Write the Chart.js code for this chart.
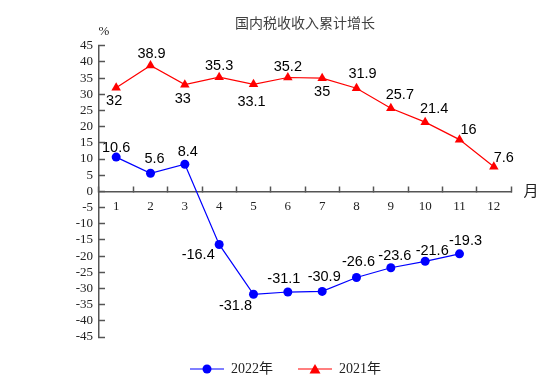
<!DOCTYPE html>
<html>
<head>
<meta charset="utf-8">
<script src="https://cdn.jsdelivr.net/npm/chart.js@4.4.1/dist/chart.umd.min.js"></script>
<style>
  html, body { margin: 0; padding: 0; background: #fff; }
</style>
</head>
<body>
<canvas id="tax-chart" width="554" height="392" style="width:554px;height:392px"></canvas>
<script>
// data
const months = ['1', '2', '3', '4', '5', '6', '7', '8', '9', '10', '11', '12'];
const growth2022 = [10.6, 5.6, 8.4, -16.4, -31.8, -31.1, -30.9, -26.6, -23.6, -21.6, -19.3, null];
const growth2021 = [32, 38.9, 33, 35.3, 33.1, 35.2, 35, 31.9, 25.7, 21.4, 16, 7.6];
const yMin = -45;
const yMax = 45;
const yStep = 5;

// where each value label sits relative to its point [dx, dy]
const labelShift2022 = [[0, -9], [4, -14], [3, -12], [-21, 11], [-18, 12], [-4, -13], [2, -14], [2, -15], [4, -12], [7, -10], [6, -13]];
const labelShift2021 = [[-2, 13], [1, -12], [-2, 14], [0, -11], [-2, 18], [0, -11], [0, 14], [6, -14], [9, -13], [9, -13], [9, -10], [10, -9]];

const SERIF = '"Liberation Serif", "Times New Roman", "Noto Sans CJK SC", serif';
const CJK = '"Noto Sans CJK SC", sans-serif';
const AXIS_COLOR = '#555555';

// small picture for the legend: line with the marker in the middle
function legendIcon(color, shape) {
  const c = document.createElement('canvas');
  c.width = 34;
  c.height = 12;
  const ctx = c.getContext('2d');
  ctx.strokeStyle = color;
  ctx.fillStyle = color;
  ctx.lineWidth = 1.2;
  ctx.beginPath();
  ctx.moveTo(0, 6);
  ctx.lineTo(34, 6);
  ctx.stroke();
  ctx.beginPath();
  if (shape === 'circle') {
    ctx.arc(17, 6, 4.5, 0, Math.PI * 2);
  } else {
    ctx.moveTo(17, 1);
    ctx.lineTo(22.5, 10.5);
    ctx.lineTo(11.5, 10.5);
    ctx.closePath();
  }
  ctx.fill();
  return c;
}
const icons = [legendIcon('#0000ff', 'circle'), legendIcon('#ff0000', 'triangle')];

const valueLabels = {
  id: 'valueLabels',
  afterDatasetsDraw(chart) {
    const ctx = chart.ctx;
    const shifts = [labelShift2022, labelShift2021];
    ctx.save();
    ctx.font = '14.5px "Liberation Sans", Arial, sans-serif';
    ctx.fillStyle = '#000';
    ctx.textAlign = 'center';
    ctx.textBaseline = 'middle';
    chart.data.datasets.forEach((ds, i) => {
      const meta = chart.getDatasetMeta(i);
      meta.data.forEach((pt, j) => {
        const v = ds.data[j];
        if (v === null || v === undefined) return;
        const s = shifts[i][j];
        ctx.fillText(String(v), pt.x + s[0], pt.y + s[1]);
      });
    });
    ctx.restore();
  }
};

const axisNames = {
  id: 'axisNames',
  afterDraw(chart) {
    const ctx = chart.ctx;
    const area = chart.chartArea;
    const zeroY = chart.scales.y.getPixelForValue(0);
    ctx.save();
    ctx.fillStyle = '#222';
    ctx.textBaseline = 'middle';
    ctx.font = '13px ' + SERIF;
    ctx.textAlign = 'center';
    ctx.fillText('%', area.left + 5, area.top - 14);
    ctx.font = '15px ' + CJK;
    ctx.fillText('月', area.right + 20, zeroY - 1);
    ctx.restore();
  }
};

new Chart(document.getElementById('tax-chart'), {
  type: 'line',
  data: {
    labels: months,
    datasets: [
      {
        label: '2022年',
        data: growth2022,
        borderColor: '#0000ff',
        backgroundColor: '#0000ff',
        borderWidth: 1.2,
        pointStyle: 'circle',
        pointRadius: 4.5,
        pointBorderWidth: 0,
        tension: 0
      },
      {
        label: '2021年',
        data: growth2021,
        borderColor: '#ff0000',
        backgroundColor: '#ff0000',
        borderWidth: 1.2,
        pointStyle: 'triangle',
        pointRadius: 5.5,
        pointBorderWidth: 0,
        tension: 0
      }
    ]
  },
  options: {
    responsive: false,
    animation: false,
    layout: {
      padding: { left: 60, right: 43, top: 0, bottom: 6 }
    },
    scales: {
      x: {
        type: 'category',
        offset: true,
        position: { y: 0 },
        border: { color: AXIS_COLOR, width: 1.5 },
        grid: {
          offset: true,
          drawOnChartArea: false,
          drawTicks: true,
          tickLength: -6,
          tickWidth: 1.5,
          color: AXIS_COLOR
        },
        ticks: {
          padding: 13,
          color: '#222',
          maxRotation: 0,
          autoSkip: false,
          font: { family: SERIF, size: 13 }
        }
      },
      y: {
        min: yMin,
        max: yMax,
        afterFit(scale) { scale.width = 39; },
        border: { color: AXIS_COLOR, width: 1.5 },
        grid: {
          drawOnChartArea: false,
          drawTicks: true,
          tickLength: -6,
          tickWidth: 1.5,
          color: AXIS_COLOR
        },
        ticks: {
          stepSize: yStep,
          padding: 12,
          autoSkip: false,
          color: '#222',
          font: { family: SERIF, size: 13 }
        }
      }
    },
    plugins: {
      title: {
        display: true,
        text: '国内税收收入累计增长',
        fullSize: false,
        color: '#404040',
        font: { family: CJK, size: 14, weight: 'normal' },
        padding: { top: 14, bottom: 15 }
      },
      legend: {
        position: 'bottom',
        labels: {
          usePointStyle: true,
          pointStyleWidth: 34,
          boxHeight: 12,
          padding: 25,
          color: '#222',
          font: { family: SERIF, size: 14 },
          generateLabels(chart) {
            const items = Chart.defaults.plugins.legend.labels.generateLabels(chart);
            items.forEach((it, i) => { it.pointStyle = icons[i]; });
            return items;
          }
        }
      },
      tooltip: { enabled: false }
    }
  },
  plugins: [valueLabels, axisNames]
});
</script>
</body>
</html>
